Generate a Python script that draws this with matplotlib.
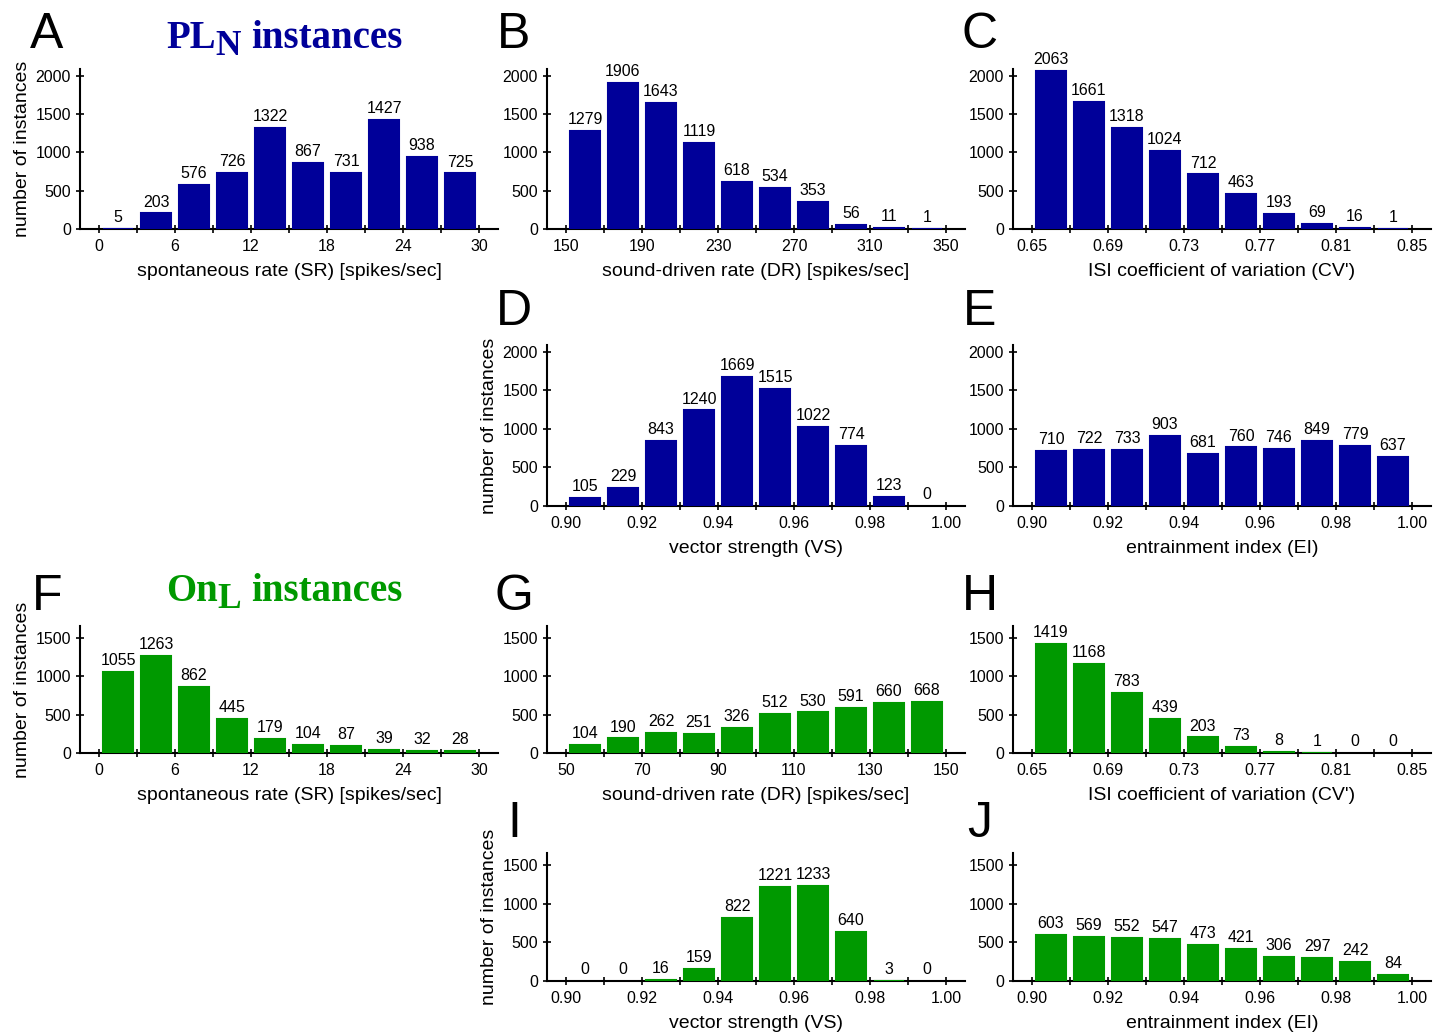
import matplotlib
matplotlib.use("Agg")
import matplotlib.pyplot as plt
import numpy as np

W, H = 1444, 1034
plt.rcParams['font.family'] = ['Liberation Sans', 'DejaVu Sans']

blue = '#000099'
green = '#009900'

# PL_N instances
sr_pl = [5, 203, 576, 726, 1322, 867, 731, 1427, 938, 725]
dr_pl = [1279, 1906, 1643, 1119, 618, 534, 353, 56, 11, 1]
cv_pl = [2063, 1661, 1318, 1024, 712, 463, 193, 69, 16, 1]
vs_pl = [105, 229, 843, 1240, 1669, 1515, 1022, 774, 123, 0]
ei_pl = [710, 722, 733, 903, 681, 760, 746, 849, 779, 637]

# On_L instances
sr_on = [1055, 1263, 862, 445, 179, 104, 87, 39, 32, 28]
dr_on = [104, 190, 262, 251, 326, 512, 530, 591, 660, 668]
cv_on = [1419, 1168, 783, 439, 203, 73, 8, 1, 0, 0]
vs_on = [0, 0, 16, 159, 822, 1221, 1233, 640, 3, 0]
ei_on = [603, 569, 552, 547, 473, 421, 306, 297, 242, 84]

# bin start / bin width
sr_bins = (0, 3)
dr_pl_bins = (150, 20)
dr_on_bins = (50, 10)
cv_bins = (0.65, 0.02)
vs_bins = (0.90, 0.01)
ei_bins = (0.90, 0.01)

sr_label = 'spontaneous rate (SR) [spikes/sec]'
dr_label = 'sound-driven rate (DR) [spikes/sec]'
cv_label = "ISI coefficient of variation (CV')"
vs_label = 'vector strength (VS)'
ei_label = 'entrainment index (EI)'
y_label = 'number of instances'

fig = plt.figure(figsize=(W / 100, H / 100), dpi=100)

col_left = [80, 547, 1013]
ax_w = 418
row_top = [69, 345, 626, 853]
row_h = [160, 161, 127, 128]
letter_base = [48.5, 325, 610, 837]


def px_axes(col, row):
    l = col_left[col]
    t = row_top[row]
    h = row_h[row]
    return fig.add_axes([l / W, 1 - (t + h) / H, ax_w / W, h / H])


def panel(col, row, letter, counts, bins, color, ymax, yticks, xlabel, fmt, ylab=False):
    ax = px_axes(col, row)
    lo, step = bins
    n = len(counts)
    edges = lo + step * np.arange(n + 1)
    centers = edges[:-1] + step / 2
    lw = [1.5 if c > 0 else 0 for c in counts]
    ax.bar(centers, counts, width=step * 0.80, color=color, edgecolor=color,
           linewidth=lw, zorder=3)
    for c, v in zip(centers, counts):
        ax.annotate(str(v), (c, v), xytext=(0, 5), textcoords='offset points',
                    ha='center', va='baseline', fontsize=11.5)
    rng = edges[-1] - edges[0]
    ax.set_xlim(edges[0] - 0.05 * rng, edges[-1] + 0.05 * rng)
    ax.set_ylim(0, ymax)
    ax.set_xticks(edges)
    ax.set_xticklabels([fmt % e if i % 2 == 0 else '' for i, e in enumerate(edges)])
    ax.set_yticks(yticks)
    for s in ['top', 'right']:
        ax.spines[s].set_visible(False)
    for s in ['left', 'bottom']:
        ax.spines[s].set_linewidth(1.5)
    ax.tick_params(direction='inout', length=6, width=1.2, labelsize=11.5)
    ax.tick_params(axis='x', pad=4)
    ax.set_xlabel(xlabel, fontsize=14, labelpad=6.5)
    if ylab:
        ax.set_ylabel(y_label, fontsize=14, labelpad=3)
    fig.text((col_left[col] - 33) / W, 1 - letter_base[row] / H, letter,
             ha='center', va='baseline', fontsize=36)
    return ax


top_ticks = [0, 500, 1000, 1500, 2000]
bot_ticks = [0, 500, 1000, 1500]

axA = panel(0, 0, 'A', sr_pl, sr_bins, blue, 2090, top_ticks, sr_label, '%d', ylab=True)
panel(1, 0, 'B', dr_pl, dr_pl_bins, blue, 2090, top_ticks, dr_label, '%d')
panel(2, 0, 'C', cv_pl, cv_bins, blue, 2090, top_ticks, cv_label, '%.2f')
panel(1, 1, 'D', vs_pl, vs_bins, blue, 2090, top_ticks, vs_label, '%.2f', ylab=True)
panel(2, 1, 'E', ei_pl, ei_bins, blue, 2090, top_ticks, ei_label, '%.2f')

axF = panel(0, 2, 'F', sr_on, sr_bins, green, 1660, bot_ticks, sr_label, '%d', ylab=True)
panel(1, 2, 'G', dr_on, dr_on_bins, green, 1660, bot_ticks, dr_label, '%d')
panel(2, 2, 'H', cv_on, cv_bins, green, 1660, bot_ticks, cv_label, '%.2f')
panel(1, 3, 'I', vs_on, vs_bins, green, 1660, bot_ticks, vs_label, '%.2f', ylab=True)
panel(2, 3, 'J', ei_on, ei_bins, green, 1660, bot_ticks, ei_label, '%.2f')


def title(ax, x, base, main, sub, color):
    kw = dict(family=['Liberation Serif', 'DejaVu Serif'], weight='bold', color=color)
    t1 = fig.text(x / W, 1 - base / H, main, ha='left', va='baseline', fontsize=28, **kw)
    t2 = ax.annotate(sub, xy=(1, 0), xycoords=t1, xytext=(0, -4), textcoords='offset points',
                     ha='left', va='bottom', fontsize=25.5, annotation_clip=False, **kw)
    ax.annotate('instances', xy=(1, 0), xycoords=t2, xytext=(7, 4), textcoords='offset points',
                ha='left', va='bottom', fontsize=28, annotation_clip=False, **kw)


title(axA, 166, 48, 'PL', 'N', blue)
title(axF, 166, 601, 'On', 'L', green)

fig.savefig('out.png', dpi=100)
